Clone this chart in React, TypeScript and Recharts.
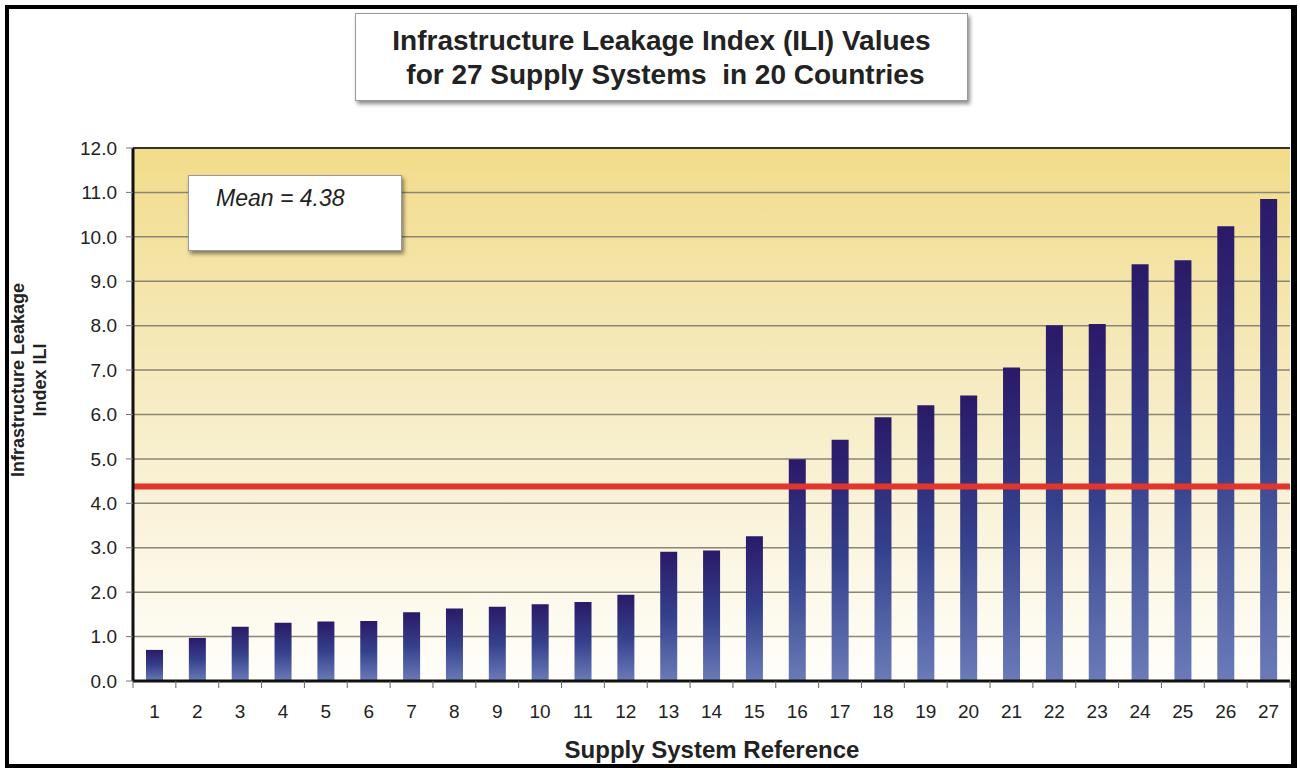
import React from 'react';
import { BarChart, Bar, XAxis, YAxis, CartesianGrid, ReferenceLine } from 'recharts';

// supply system reference numbers
const systems = [1, 2, 3, 4, 5, 6, 7, 8, 9, 10, 11, 12, 13, 14, 15, 16, 17, 18, 19, 20, 21, 22, 23, 24, 25, 26, 27];
// ILI values
const iliValues = [
  0.70, 0.97, 1.22, 1.31, 1.34, 1.35, 1.55, 1.63, 1.67, 1.73, 1.78, 1.94, 2.91, 2.94, 3.26,
  4.99, 5.43, 5.94, 6.21, 6.43, 7.06, 8.01, 8.04, 9.38, 9.47, 10.24, 10.85,
];
const yTicks = [0, 1, 2, 3, 4, 5, 6, 7, 8, 9, 10, 11, 12];
const meanIli = 4.38;

const data = systems.map((s, i) => ({ name: String(s), ili: iliValues[i] }));

const FONT = '"Liberation Sans", Arial, sans-serif';
const TICK_SIZE = 6;
const TICK_MARGIN = 18;

const XTick = (props: any) => {
  const { x, y, payload, index } = props;
  const off = payload.offset || 0;
  const top = y - TICK_MARGIN - TICK_SIZE;
  return (
    <g>
      <line x1={x - off} y1={top} x2={x - off} y2={top + 7} stroke="#666" strokeWidth={1} />
      {index === systems.length - 1 && (
        <line x1={x + off} y1={top} x2={x + off} y2={top + 7} stroke="#666" strokeWidth={1} />
      )}
      <text x={x} y={y} dy="0.71em" textAnchor="middle" fontSize={19} fill="#222" fontFamily={FONT}>
        {payload.value}
      </text>
    </g>
  );
};

export default function App() {
  return (
    <div style={{ position: 'absolute', left: 0, top: 0, width: 1300, height: 769, background: '#fff', fontFamily: FONT }}>
      <BarChart width={1300} height={769} data={data} margin={{ top: 148, right: 10, left: 73, bottom: 58 }}>
        <defs>
          <linearGradient id="bgGrad" x1="0" y1="0" x2="0" y2="1">
            <stop offset="0%" stopColor="#f2dc8a" />
            <stop offset="45%" stopColor="#f6ebc2" />
            <stop offset="100%" stopColor="#fffefb" />
          </linearGradient>
          <linearGradient id="barGrad" x1="0" y1="0" x2="0" y2="1">
            <stop offset="0%" stopColor="#2a1a68" />
            <stop offset="50%" stopColor="#35408c" />
            <stop offset="100%" stopColor="#6a7bb8" />
          </linearGradient>
        </defs>
        <CartesianGrid vertical={false} stroke="#8a8674" strokeWidth={1.5} fill="url(#bgGrad)" fillOpacity={1} />
        <XAxis
          dataKey="name"
          height={30}
          interval={0}
          tickLine={false}
          tickSize={TICK_SIZE}
          tickMargin={TICK_MARGIN}
          axisLine={{ stroke: '#111', strokeWidth: 3 }}
          tick={<XTick />}
        />
        <YAxis
          width={60}
          domain={[0, 12]}
          ticks={yTicks}
          interval={0}
          tickSize={7}
          tickMargin={9}
          tickFormatter={(v: number) => v.toFixed(1)}
          tick={{ fontSize: 19, fill: '#222', fontFamily: FONT }}
          tickLine={{ stroke: '#777' }}
          axisLine={{ stroke: '#111', strokeWidth: 3 }}
        />
        <YAxis yAxisId="r" orientation="right" width={0} domain={[0, 12]} tick={false} tickLine={false} axisLine={{ stroke: '#333', strokeWidth: 2 }} />
        <ReferenceLine y={12} stroke="#333" strokeWidth={2} />
        <Bar dataKey="ili" barSize={17} fill="url(#barGrad)" isAnimationActive={false} />
        <ReferenceLine y={meanIli} stroke="#e2352b" strokeWidth={6} />
      </BarChart>

      {/* title box */}
      <div
        style={{
          position: 'absolute', left: 355, top: 13, width: 613, height: 88, background: '#fff',
          border: '1px solid #999', boxShadow: '2px 3px 4px rgba(0,0,0,0.45)', textAlign: 'center',
          fontWeight: 'bold', fontSize: 28, lineHeight: '34px', color: '#222', paddingTop: 10, boxSizing: 'border-box',
          whiteSpace: 'pre',
        }}
      >
        {'Infrastructure Leakage Index (ILI) Values\n for 27 Supply Systems  in 20 Countries'}
      </div>

      {/* mean box */}
      <div
        style={{
          position: 'absolute', left: 188, top: 175, width: 214, height: 76, background: '#fff',
          border: '1px solid #999', boxShadow: '2px 3px 4px rgba(0,0,0,0.45)', boxSizing: 'border-box',
          fontStyle: 'italic', fontSize: 23, lineHeight: '26px', color: '#222', paddingLeft: 27, paddingTop: 9,
        }}
      >
        Mean = 4.38
      </div>

      {/* y axis title */}
      <div
        style={{
          position: 'absolute', left: 29, top: 380, width: 260, transform: 'translate(-50%, -50%) rotate(-90deg)',
          textAlign: 'center', fontWeight: 'bold', fontSize: 18, lineHeight: '22px', color: '#222',
        }}
      >
        Infrastructure Leakage<br />Index ILI
      </div>

      {/* x axis title */}
      <div
        style={{
          position: 'absolute', left: 362, top: 736, width: 700, textAlign: 'center',
          fontWeight: 'bold', fontSize: 24, lineHeight: '28px', color: '#222',
        }}
      >
        Supply System Reference
      </div>

      {/* outer frame */}
      <div
        style={{
          position: 'absolute', left: 5, top: 5, width: 1292, height: 763, boxSizing: 'border-box',
          borderStyle: 'solid', borderColor: '#000', borderWidth: '4px 6px 4px 4px', pointerEvents: 'none',
        }}
      />
    </div>
  );
}
